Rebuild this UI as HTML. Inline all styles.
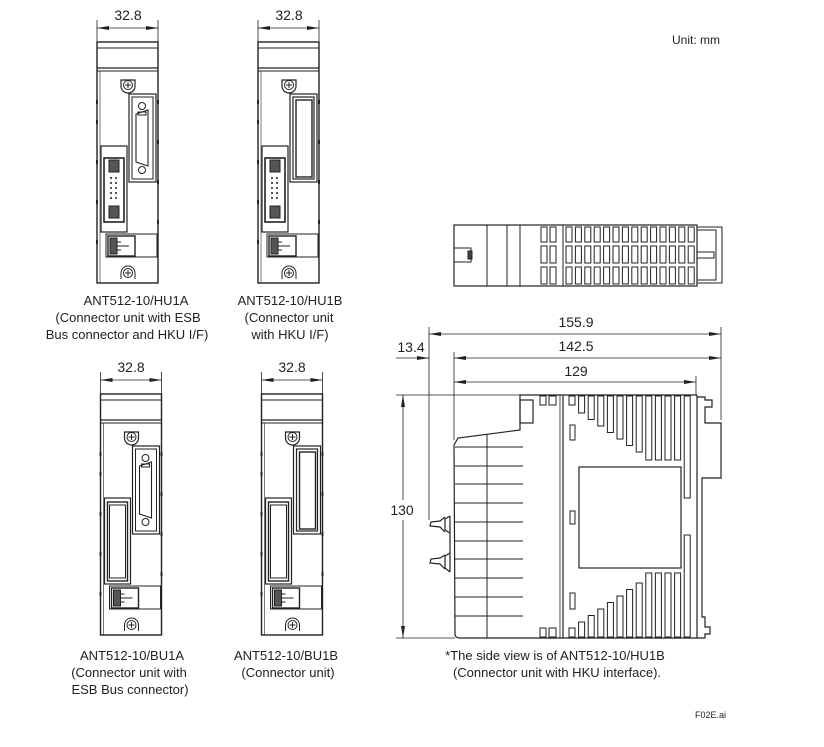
<!DOCTYPE html>
<html><head><meta charset="utf-8"><style>
html,body{margin:0;padding:0;background:#fff;}
svg{display:block;}
text{font-family:"Liberation Sans",Arial,sans-serif;fill:#222;}
</style></head><body>
<svg id="s" width="824" height="747" viewBox="0 0 824 747" xmlns="http://www.w3.org/2000/svg" fill="none" stroke="#222" stroke-width="1">
<defs>
<marker id="a" viewBox="0 0 12 6" refX="12" refY="3" markerWidth="12" markerHeight="6" orient="auto-start-reverse" markerUnits="userSpaceOnUse"><path d="M0,1 L12,3 L0,5 Z" fill="#222" stroke="none"/></marker>
<g id="mod">
<rect x="97" y="42" width="61" height="241" stroke-width="1.4"/>
<line x1="97" y1="48" x2="158" y2="48"/>
<line x1="97" y1="68" x2="158" y2="68" stroke-width="1.2"/>
<line x1="97" y1="71" x2="158" y2="71"/>
<line x1="100" y1="71" x2="100" y2="283" stroke-width="0.6"/>
<g stroke-width="2"><line x1="97" y1="100" x2="97" y2="104"/><line x1="97" y1="120" x2="97" y2="124"/><line x1="97" y1="160" x2="97" y2="164"/><line x1="97" y1="200" x2="97" y2="204"/><line x1="97" y1="240" x2="97" y2="244"/><line x1="158" y1="100" x2="158" y2="104"/><line x1="158" y1="140" x2="158" y2="144"/><line x1="158" y1="180" x2="158" y2="184"/><line x1="158" y1="220" x2="158" y2="224"/></g>
<path d="M121,80 h14 v6 a7,7 0 0 1 -14,0 Z" stroke-width="1.2"/>
<circle cx="128" cy="85" r="4.5"/><path d="M125,85h6M128,82v6"/>
<path d="M121,279 v-6 a7,7 0 0 1 14,0 v6"/>
<circle cx="128" cy="273" r="4.5"/><path d="M125,273h6M128,270v6"/>
<rect x="106" y="234" width="51" height="23"/>
<rect x="108" y="236" width="27" height="20" stroke-width="1.4"/>
<rect x="110" y="238" width="7" height="16" fill="#555"/>
<path d="M117,246h12M117,242h4M117,250h4"/>
</g>
<g id="idc">
<rect x="101" y="146" width="26" height="86" stroke-width="1.2"/>
<rect x="104" y="158" width="20" height="64" stroke-width="1.6"/>
<rect x="109" y="160" width="10" height="12" fill="#555"/><rect x="109" y="206" width="10" height="12" fill="#555"/>
<g fill="#222" stroke="none"><circle cx="111" cy="178" r="1"/><circle cx="116" cy="178" r="1"/><circle cx="111" cy="183" r="1"/><circle cx="116" cy="183" r="1"/><circle cx="111" cy="188" r="1"/><circle cx="116" cy="188" r="1"/><circle cx="111" cy="193" r="1"/><circle cx="116" cy="193" r="1"/><circle cx="111" cy="198" r="1"/><circle cx="116" cy="198" r="1"/></g>
</g>
<g id="esb">
<rect x="129" y="94" width="27" height="88" stroke-width="1.2"/>
<rect x="132" y="97" width="21" height="82"/>
<circle cx="142" cy="106" r="3.5"/><circle cx="142" cy="170" r="3.5"/>
<path d="M136,114 L148,110 V166 L136,162 Z" stroke-width="1.1"/>
<rect x="138" y="112" width="8" height="3"/>
</g>
<g id="slotR">
<rect x="129" y="94" width="27" height="88" stroke-width="1.2"/>
<rect x="132" y="97" width="21" height="82" stroke-width="1.2"/>
<rect x="135" y="100" width="16" height="77" stroke-width="1.4"/>
</g>
<g id="slotL">
<rect x="101" y="146" width="26" height="86" stroke-width="1.2"/>
<rect x="104" y="150" width="20" height="79" stroke-width="1.4"/>
<rect x="106" y="153" width="16" height="73"/>
</g>
</defs>

<use href="#mod"/><use href="#idc"/><use href="#esb"/>
<g transform="translate(161,0)"><use href="#mod"/><use href="#idc"/><use href="#slotR"/></g>
<g transform="translate(3.5,352)"><use href="#mod"/><use href="#slotL"/><use href="#esb"/></g>
<g transform="translate(164.5,352)"><use href="#mod"/><use href="#slotL"/><use href="#slotR"/></g>

<g stroke-width="0.8">
<line x1="97" y1="20" x2="97" y2="42"/><line x1="158" y1="20" x2="158" y2="42"/>
<line x1="97" y1="28" x2="158" y2="28" marker-start="url(#a)" marker-end="url(#a)"/>
<line x1="258" y1="20" x2="258" y2="42"/><line x1="319" y1="20" x2="319" y2="42"/>
<line x1="258" y1="28" x2="319" y2="28" marker-start="url(#a)" marker-end="url(#a)"/>
<line x1="100.5" y1="372" x2="100.5" y2="394"/><line x1="161.5" y1="372" x2="161.5" y2="394"/>
<line x1="100.5" y1="380" x2="161.5" y2="380" marker-start="url(#a)" marker-end="url(#a)"/>
<line x1="261.5" y1="372" x2="261.5" y2="394"/><line x1="322.5" y1="372" x2="322.5" y2="394"/>
<line x1="261.5" y1="380" x2="322.5" y2="380" marker-start="url(#a)" marker-end="url(#a)"/>
</g>
<g font-size="14" text-anchor="middle" stroke="none">
<text x="128" y="20">32.8</text><text x="289" y="20">32.8</text>
<text x="131" y="372">32.8</text><text x="292" y="372">32.8</text>
</g>
<g font-size="13" text-anchor="middle" stroke="none">
<text x="136" y="305">ANT512-10/HU1A</text>
<text x="128" y="322">(Connector unit with ESB</text>
<text x="127" y="339">Bus connector and HKU I/F)</text>
<text x="290" y="305">ANT512-10/HU1B</text>
<text x="289" y="322">(Connector unit</text>
<text x="290" y="339">with HKU I/F)</text>
<text x="132" y="660">ANT512-10/BU1A</text>
<text x="129" y="677">(Connector unit with</text>
<text x="130" y="694">ESB Bus connector)</text>
<text x="286" y="660">ANT512-10/BU1B</text>
<text x="288" y="677">(Connector unit)</text>
<text x="555" y="660">*The side view is of ANT512-10/HU1B</text>
<text x="557" y="677">(Connector unit with HKU interface).</text>
</g>
<text x="672" y="44" font-size="12" stroke="none">Unit: mm</text>
<text x="695" y="718" font-size="9" stroke="none">F02E.ai</text>

<g id="top">
<rect x="454" y="225" width="243" height="61" stroke-width="1.2"/>
<line x1="487" y1="225" x2="487" y2="286"/><line x1="507" y1="225" x2="507" y2="286"/><line x1="520" y1="225" x2="520" y2="286"/><line x1="563" y1="225" x2="563" y2="286"/>
<rect x="454" y="248" width="17" height="14"/><rect x="468" y="251" width="4" height="8" fill="#444"/>
<rect x="697" y="227" width="25" height="56"/><rect x="697" y="230" width="19" height="50"/>
<rect x="697" y="252" width="17" height="6"/>
</g>

<g stroke-width="1.2">
<path d="M454,445 L455,634 Q455,638 460,638 L563,638 L563,395 L520,395 L520,430 L458,438 Z"/>
<rect x="520" y="400" width="13" height="23"/>
<line x1="563" y1="395" x2="697" y2="395"/><line x1="563" y1="638" x2="697" y2="638"/>
<line x1="697" y1="395" x2="697" y2="638"/>
<line x1="560" y1="395" x2="560" y2="638" stroke-width="0.8"/>
<line x1="487" y1="434" x2="487" y2="638" stroke-width="1"/>
<rect x="579" y="467" width="102" height="101"/>
<path d="M697,397 H705 V400 H712 V407 H705 V423 H721 V478 H702 V617 H705 V627 H710 V634 H705 V638 H697"/>
<path d="M445,517 L440,521 L431,522 L430,526 L440,527 L445,532 M450,516 L445,519 L445,530 L450,533 M445,555 L440,558 L431,559 L430,563 L440,564 L445,569 M450,553 L445,556 L445,568 L450,572"/>
<line x1="450" y1="516" x2="450" y2="572"/>
</g>
<g stroke-width="1">
<rect x="540" y="396" width="6" height="9"/><rect x="549" y="396" width="7" height="9"/>
<rect x="540" y="628" width="6" height="9"/><rect x="549" y="628" width="7" height="9"/>
<rect x="570" y="425" width="5" height="15"/><rect x="570" y="511" width="5" height="13"/><rect x="570" y="593" width="5" height="16"/>
</g>
<g id="gen" stroke-width="1"></g>

<g stroke-width="0.8">
<line x1="429" y1="327" x2="429" y2="520"/>
<line x1="454" y1="352" x2="454" y2="440"/>
<line x1="721" y1="327" x2="721" y2="420"/>
<line x1="696" y1="376" x2="696" y2="395"/>
<line x1="429" y1="334" x2="721" y2="334" marker-start="url(#a)" marker-end="url(#a)"/>
<line x1="454" y1="358" x2="721" y2="358" marker-start="url(#a)" marker-end="url(#a)"/>
<line x1="454" y1="382" x2="696" y2="382" marker-start="url(#a)" marker-end="url(#a)"/>
<line x1="396" y1="358" x2="429" y2="358" marker-end="url(#a)"/>
<line x1="396" y1="395" x2="520" y2="395"/>
<line x1="396" y1="638" x2="455" y2="638"/>
<line x1="403" y1="395" x2="403" y2="500" marker-start="url(#a)"/>
<line x1="403" y1="520" x2="403" y2="638" marker-end="url(#a)"/>
</g>
<g font-size="14" text-anchor="middle" stroke="none">
<text x="576" y="327">155.9</text>
<text x="576" y="351">142.5</text>
<text x="576" y="376">129</text>
<text x="411" y="352">13.4</text>
<text x="402" y="515">130</text>
</g>
</svg>
<script>
var g=document.getElementById('gen'),h='';
function r(x,y,w,hh){h+='<rect x="'+x+'" y="'+y+'" width="'+w+'" height="'+hh+'"/>';}
function l(x1,y1,x2,y2){h+='<line x1="'+x1+'" y1="'+y1+'" x2="'+x2+'" y2="'+y2+'"/>';}
for(var i=0;i<13;i++){var x=569+i*9.6;var b,t;
 if(i==0){b=405;t=628;}else if(i<=7){b=413+(i-1)*6.5;t=622-(i-1)*6.5;}else if(i<12){b=460;t=573;}else{b=498;t=535;}
 r(x,396,6,b-396);r(x,t,6,637-t);}
var xs=[541,550];for(var x=566;x<690;x+=9.4)xs.push(x);
for(var x of xs){r(x,227,6,15);r(x,246,6,17);r(x,267,6,17);}
for(var y of [447,466,484,503,522,541,559,578,597,616]) l(455,y,523,y);
g.innerHTML=h;
</script>
</body></html>
